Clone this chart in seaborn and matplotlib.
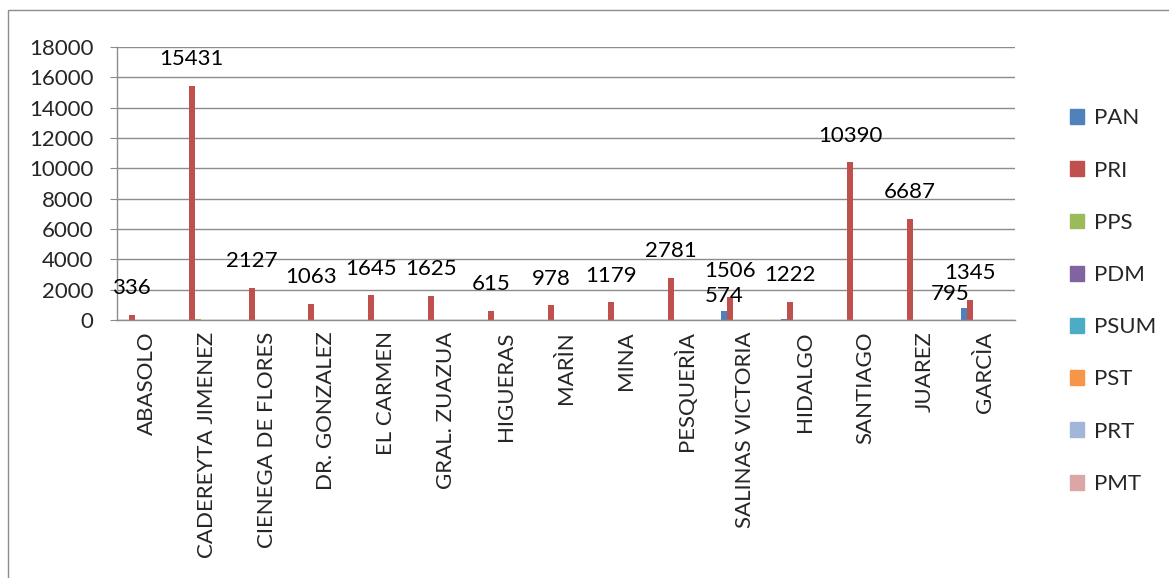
import pandas as pd
import matplotlib.pyplot as plt
import matplotlib.patches as mpatches
import seaborn as sns

municipios = ["ABASOLO", "CADEREYTA JIMENEZ", "CIENEGA DE FLORES", "DR. GONZALEZ",
              "EL CARMEN", "GRAL. ZUAZUA", "HIGUERAS", "MARÌN", "MINA", "PESQUERÌA",
              "SALINAS VICTORIA", "HIDALGO", "SANTIAGO", "JUAREZ", "GARCÌA"]
partidos = ["PAN", "PRI", "PPS", "PDM", "PSUM", "PST", "PRT", "PMT"]

pan = [45, 0, 0, 0, 0, 0, 0, 0, 40, 0, 574, 110, 0, 0, 795]
pri = [336, 15431, 2127, 1063, 1645, 1625, 615, 978, 1179, 2781, 1506, 1222, 10390, 6687, 1345]
pps = [0, 70, 0, 0, 0, 0, 0, 0, 0, 0, 0, 0, 0, 0, 0]
pdm = [0] * 15
psum = [0] * 15
pst = [0] * 15
prt = [0] * 15
pmt = [0] * 15

colores = ["#4F81BD", "#C0504D", "#9BBB59", "#8064A2", "#4BACC6", "#F79646", "#A3B6D9", "#DBA6A5"]

series = dict(zip(partidos, [pan, pri, pps, pdm, psum, pst, prt, pmt]))
df = pd.DataFrame([
    {"municipio": m, "partido": p, "votos": series[p][i]}
    for p in partidos for i, m in enumerate(municipios)
])

sns.set_style("white")
plt.rcParams["font.family"] = ["Lato", "DejaVu Sans"]
plt.rcParams["font.size"] = 16

fig = plt.figure(figsize=(11.69, 5.78), dpi=100)
ax = fig.add_axes([0.100, 0.446, 0.768, 0.473])

sns.barplot(data=df, x="municipio", y="votos", hue="partido", hue_order=partidos,
            order=municipios, palette=colores, width=0.8, saturation=1,
            linewidth=0, ax=ax, legend=False)

# etiquetas de datos (PRI siempre, PAN solo si es visible)
for k, cont in enumerate(ax.containers):
    vals = series[partidos[k]]
    if partidos[k] == "PRI":
        labels = [str(v) for v in vals]
        ax.bar_label(cont, labels=labels, padding=12, fontsize=16, color="black")
    elif partidos[k] == "PAN":
        labels = [str(v) if v > 300 else "" for v in vals]
        texts = ax.bar_label(cont, labels=labels, padding=4, fontsize=16, color="black")
        for t, v in zip(texts, vals):
            if v > 700:
                t.xyann = (-10, 3)

ax.set_ylim(0, 18000)
ax.set_yticks(range(0, 18001, 2000))
ax.set_xlim(-0.5, len(municipios) - 0.5)
ax.set_xlabel("")
ax.set_ylabel("")
ax.yaxis.grid(True, color="#8c8c8c", linewidth=1)
ax.set_axisbelow(True)
for s in ["top", "right"]:
    ax.spines[s].set_visible(False)
for s in ["left", "bottom"]:
    ax.spines[s].set_color("#8c8c8c")
    ax.spines[s].set_linewidth(1)
ax.tick_params(axis="y", length=5, color="#8c8c8c", pad=12, left=True)
ax.tick_params(axis="x", length=0, pad=8)
plt.setp(ax.get_xticklabels(), rotation=90)

handles = [mpatches.Patch(color=c, label=p) for p, c in zip(partidos, colores)]
fig.legend(handles=handles, loc="center left", bbox_to_anchor=(0.898, 0.479),
           frameon=False, handlelength=0.65, handleheight=0.65, handletextpad=0.45,
           labelspacing=1.45, fontsize=16)

fig.patches.append(mpatches.Rectangle((0.007, -0.1), 1.2, 1.083, transform=fig.transFigure,
                                      fill=False, edgecolor="#8c8c8c", linewidth=1))

plt.savefig("out.png", dpi=100)
